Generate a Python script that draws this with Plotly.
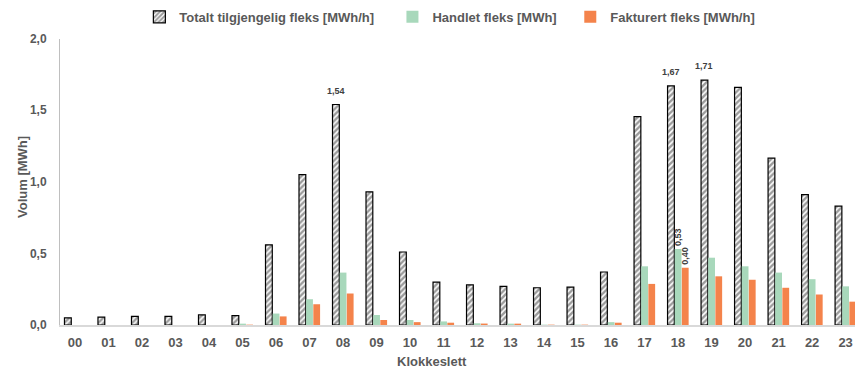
import plotly.graph_objects as go

hours = [f"{h:02d}" for h in range(24)]
totalt = [0.05, 0.055, 0.06, 0.06, 0.07, 0.065, 0.56, 1.05, 1.54, 0.93, 0.51, 0.30,
          0.28, 0.27, 0.26, 0.265, 0.37, 1.455, 1.67, 1.71, 1.66, 1.165, 0.91, 0.83]
handlet = [0.0, 0.0, 0.0, 0.0, 0.0, 0.005, 0.08, 0.18, 0.366, 0.07, 0.035, 0.025,
           0.012, 0.003, 0.002, 0.002, 0.02, 0.41, 0.53, 0.47, 0.41, 0.366, 0.32, 0.27]
fakturert = [0.0, 0.0, 0.0, 0.0, 0.0, 0.002, 0.06, 0.145, 0.22, 0.035, 0.02, 0.016,
             0.01, 0.003, 0.002, 0.002, 0.016, 0.287, 0.40, 0.34, 0.316, 0.26, 0.213, 0.163]
labels_totalt = ["08", "18", "19"]
labels_handlet = ["18"]
labels_fakturert = ["18"]
names = ["Totalt tilgjengelig fleks [MWh/h]", "Handlet fleks [MWh]", "Fakturert fleks [MWh/h]"]
x_title = "Klokkeslett"
y_title = "Volum [MWh]"
yticks = [0, 0.5, 1.0, 1.5, 2.0]

def fmt(vals, keep):
    return [f"{v:.2f}".replace(".", ",") if h in keep else "" for h, v in zip(hours, vals)]

GRAY = "#595959"
FONT = "Liberation Sans, Arial, sans-serif"
LBL = dict(size=9, color="#404040", family=FONT, weight="bold")
TTL = dict(size=13, color=GRAY, family=FONT, weight="bold")

fig = go.Figure()
fig.add_bar(
    x=hours, y=totalt, name=names[0], legend="legend",
    marker=dict(color="white", line=dict(color="black", width=1.2),
                pattern=dict(shape="/", fgcolor="#383838", bgcolor="white", size=4, solidity=0.62)),
)
fig.add_bar(
    x=hours, y=handlet, name=names[1], legend="legend2",
    marker=dict(color="#a8d8bb", line=dict(width=0)),
    text=fmt(handlet, labels_handlet), textposition="outside", textangle=-90,
    constraintext="none", cliponaxis=False, textfont=LBL,
)
fig.add_bar(
    x=hours, y=fakturert, name=names[2], legend="legend3",
    marker=dict(color="#f4834b", line=dict(width=0)),
    text=fmt(fakturert, labels_fakturert), textposition="outside", textangle=-90,
    constraintext="none", cliponaxis=False, textfont=LBL,
)

# horizontal value labels above selected "totalt" bars
for h, v, t in zip(hours, totalt, fmt(totalt, labels_totalt)):
    if t:
        fig.add_annotation(x=h, y=v, text=t, showarrow=False, xshift=-7.5, yshift=7,
                           yanchor="bottom", font=LBL)

# axis titles
fig.add_annotation(xref="paper", yref="paper", x=0.468, y=-0.128, text=x_title,
                   showarrow=False, xanchor="center", yanchor="middle", font=TTL)
fig.add_annotation(xref="paper", yref="paper", x=-0.0465, y=0.517, text=y_title,
                   showarrow=False, xanchor="center", yanchor="middle", textangle=-90, font=TTL)

leg_common = dict(orientation="h", xref="container", yref="container",
                  xanchor="left", y=0.995, yanchor="top", itemwidth=30,
                  font=dict(size=13, color=GRAY, family=FONT, weight="bold"))

fig.update_layout(
    width=855, height=371,
    margin=dict(l=60, r=0, t=37, b=46),
    paper_bgcolor="white", plot_bgcolor="white",
    barmode="group", bargap=0.36, bargroupgap=0.05,
    separators=", ",
    font=dict(family=FONT, color=GRAY, size=12, weight="bold"),
    showlegend=True,
    legend=dict(x=0.163, **leg_common),
    legend2=dict(x=0.459, **leg_common),
    legend3=dict(x=0.667, **leg_common),
    xaxis=dict(type="category", range=[-0.448, 23.28],
               showline=True, linecolor="#d9d9d9", linewidth=2,
               ticks="", showgrid=False, ticklabelstandoff=4,
               tickfont=dict(size=13, color=GRAY, family=FONT, weight="bold")),
    yaxis=dict(range=[0, 2.0], tickvals=yticks, tickformat=".1f",
               showline=True, linecolor="#bfbfbf", linewidth=1,
               showgrid=False, zeroline=False, ticks="", ticklabelstandoff=10,
               tickfont=dict(size=12, color=GRAY, family=FONT, weight="bold")),
)

fig.write_html("out.html", config={"displayModeBar": False},
               post_script="document.body.style.margin='0';")
